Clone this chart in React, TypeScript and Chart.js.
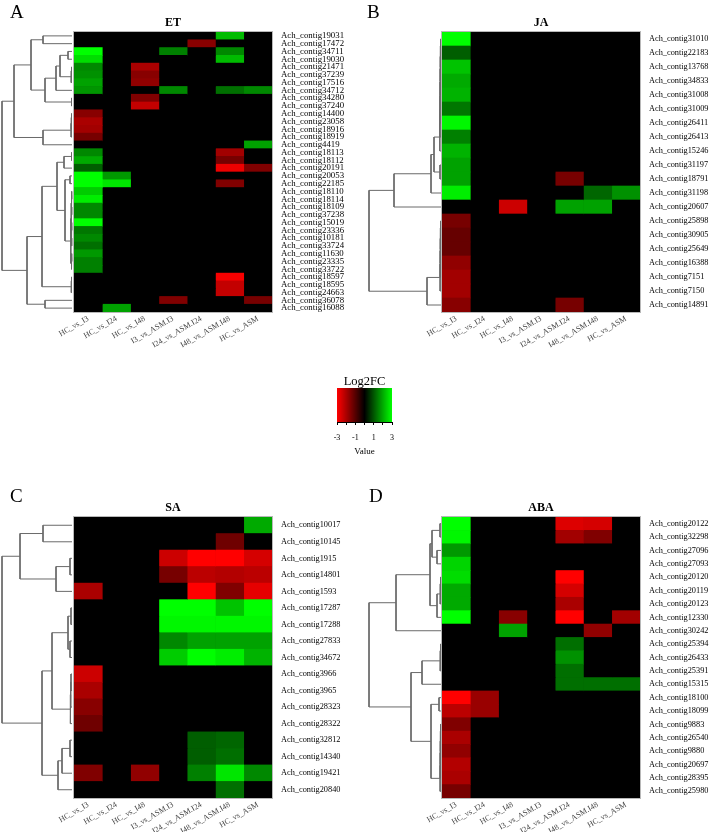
import React, { useEffect, useRef } from "react";
import { Chart, registerables } from "chart.js";

Chart.register(...registerables);

const SERIF = "'Liberation Serif', 'Times New Roman', serif";

const COLUMNS = ["HC_vs_I3", "HC_vs_I24", "HC_vs_I48", "I3_vs_ASM.I3", "I24_vs_ASM.I24", "I48_vs_ASM.I48", "HC_vs_ASM"];

// ---------- ET ----------
const ET_ROWS = [
  "Ach_contig19031", "Ach_contig17472", "Ach_contig34711", "Ach_contig19030", "Ach_contig21471", "Ach_contig37239",
  "Ach_contig17516", "Ach_contig34712", "Ach_contig34280", "Ach_contig37240", "Ach_contig14400", "Ach_contig23058",
  "Ach_contig18916", "Ach_contig18919", "Ach_contig4419", "Ach_contig18113", "Ach_contig18112", "Ach_contig20191",
  "Ach_contig20053", "Ach_contig22185", "Ach_contig18110", "Ach_contig18114", "Ach_contig18109", "Ach_contig37238",
  "Ach_contig15019", "Ach_contig23336", "Ach_contig10181", "Ach_contig33724", "Ach_contig11630", "Ach_contig23335",
  "Ach_contig33722", "Ach_contig18597", "Ach_contig18595", "Ach_contig24663", "Ach_contig36078", "Ach_contig16088",
];
const ET_VALUES = [
  [0, 0, 0, 0, 0, 2.2, 0],
  [0, 0, 0, 0, -1.6, 0, 0],
  [3, 0, 0, 1.5, 0, 1.6, 0],
  [2.6, 0, 0, 0, 0, 2.2, 0],
  [1.6, 0, -2.0, 0, 0, 0, 0],
  [1.7, 0, -1.6, 0, 0, 0, 0],
  [1.9, 0, -1.7, 0, 0, 0, 0],
  [1.75, 0, 0, 1.6, 0, 1.3, 1.6],
  [0, 0, -1.5, 0, 0, 0, 0],
  [0, 0, -2.3, 0, 0, 0, 0],
  [-1.6, 0, 0, 0, 0, 0, 0],
  [-2.0, 0, 0, 0, 0, 0, 0],
  [-1.9, 0, 0, 0, 0, 0, 0],
  [-1.4, 0, 0, 0, 0, 0, 0],
  [0, 0, 0, 0, 0, 0, 1.9],
  [1.6, 0, 0, 0, 0, -1.9, 0],
  [2.0, 0, 0, 0, 0, -1.4, 0],
  [1.1, 0, 0, 0, 0, -2.8, -1.5],
  [3, 1.8, 0, 0, 0, 0, 0],
  [3, 2.7, 0, 0, 0, -1.5, 0],
  [2.4, 0, 0, 0, 0, 0, 0],
  [2.8, 0, 0, 0, 0, 0, 0],
  [1.6, 0, 0, 0, 0, 0, 0],
  [1.6, 0, 0, 0, 0, 0, 0],
  [3, 0, 0, 0, 0, 0, 0],
  [1.4, 0, 0, 0, 0, 0, 0],
  [1.6, 0, 0, 0, 0, 0, 0],
  [1.3, 0, 0, 0, 0, 0, 0],
  [1.8, 0, 0, 0, 0, 0, 0],
  [1.5, 0, 0, 0, 0, 0, 0],
  [1.5, 0, 0, 0, 0, 0, 0],
  [0, 0, 0, 0, 0, -2.9, 0],
  [0, 0, 0, 0, 0, -2.3, 0],
  [0, 0, 0, 0, 0, -2.3, 0],
  [0, 0, 0, -1.5, 0, 0, -1.4],
  [0, 1.9, 0, 0, 0, 0, 0],
];
// merges in hclust style: negative = leaf (row), positive = earlier merge (1-based), then height
const ET_TREE = [
  [-1, -2, 29], [-3, -4, 4], [-5, -6, 0.5], [3, -7, 0.8], [2, 4, 12], [5, -8, 16], [-9, -10, 0.5], [6, 7, 27],
  [1, 8, 41], [-11, -12, 0.5], [10, -13, 0.7], [11, -14, 0.9], [12, -15, 29], [9, 13, 58], [-16, -17, 0.5],
  [15, -18, 8], [-19, -20, 2], [-21, -22, 0.3], [-23, -24, 0.3], [18, 19, 0.6], [-25, -26, 0.3], [-27, -28, 0.3],
  [21, 22, 0.6], [-29, -30, 0.3], [24, -31, 0.5], [20, 23, 0.9], [26, 25, 1.2], [17, 27, 7], [16, 28, 15],
  [-32, -33, 0.5], [30, -34, 0.7], [29, 31, 30], [-35, -36, 27], [32, 33, 45], [14, 34, 70],
];

// ---------- JA ----------
const JA_ROWS = [
  "Ach_contig31010", "Ach_contig22183", "Ach_contig13768", "Ach_contig34833", "Ach_contig31008", "Ach_contig31009",
  "Ach_contig26411", "Ach_contig26413", "Ach_contig15246", "Ach_contig31197", "Ach_contig18791", "Ach_contig31198",
  "Ach_contig20607", "Ach_contig25898", "Ach_contig30905", "Ach_contig25649", "Ach_contig16388", "Ach_contig7151",
  "Ach_contig7150", "Ach_contig14891",
];
const JA_VALUES = [
  [3, 0, 0, 0, 0, 0, 0],
  [1.1, 0, 0, 0, 0, 0, 0],
  [2.3, 0, 0, 0, 0, 0, 0],
  [2.0, 0, 0, 0, 0, 0, 0],
  [2.1, 0, 0, 0, 0, 0, 0],
  [1.4, 0, 0, 0, 0, 0, 0],
  [2.9, 0, 0, 0, 0, 0, 0],
  [1.5, 0, 0, 0, 0, 0, 0],
  [2.1, 0, 0, 0, 0, 0, 0],
  [1.9, 0, 0, 0, 0, 0, 0],
  [1.9, 0, 0, 0, -1.4, 0, 0],
  [2.8, 0, 0, 0, 0, 1.2, 1.7],
  [0, 0, -2.4, 0, 1.9, 1.9, 0],
  [-1.4, 0, 0, 0, 0, 0, 0],
  [-1.2, 0, 0, 0, 0, 0, 0],
  [-1.2, 0, 0, 0, 0, 0, 0],
  [-1.7, 0, 0, 0, 0, 0, 0],
  [-1.9, 0, 0, 0, 0, 0, 0],
  [-1.9, 0, 0, 0, 0, 0, 0],
  [-1.6, 0, 0, 0, -1.4, 0, 0],
];
const JA_TREE = [
  [-1, -2, 0.5], [1, -3, 0.6], [2, -4, 0.7], [3, -5, 0.8], [4, -6, 0.9], [5, -7, 1.0], [6, -8, 1.1], [7, -9, 1.2],
  [-10, -11, 1], [8, 9, 7], [10, -12, 10], [11, -13, 47], [-14, -15, 0.5], [13, -16, 0.6], [14, -17, 0.7],
  [15, -18, 0.8], [16, -19, 0.9], [17, -20, 14], [12, 18, 72],
];

// ---------- SA ----------
const SA_ROWS = [
  "Ach_contig10017", "Ach_contig10145", "Ach_contig1915", "Ach_contig14801", "Ach_contig1593", "Ach_contig17287",
  "Ach_contig17288", "Ach_contig27833", "Ach_contig34672", "Ach_contig3966", "Ach_contig3965", "Ach_contig28323",
  "Ach_contig28322", "Ach_contig32812", "Ach_contig14340", "Ach_contig19421", "Ach_contig20840",
];
const SA_VALUES = [
  [0, 0, 0, 0, 0, 0, 2.0],
  [0, 0, 0, 0, 0, -1.3, 0],
  [0, 0, 0, -2.4, -3, -3, -2.5],
  [0, 0, 0, -1.4, -2.2, -2.1, -2.2],
  [-2.0, 0, 0, 0, -3, -1.5, -2.7],
  [0, 0, 0, 3, 3, 2.3, 3],
  [0, 0, 0, 2.9, 2.9, 2.9, 2.9],
  [0, 0, 0, 1.6, 1.9, 1.9, 1.9],
  [0, 0, 0, 2.4, 3, 2.8, 2.1],
  [-2.4, 0, 0, 0, 0, 0, 0],
  [-2.0, 0, 0, 0, 0, 0, 0],
  [-1.6, 0, 0, 0, 0, 0, 0],
  [-1.3, 0, 0, 0, 0, 0, 0],
  [0, 0, 0, 0, 1.1, 1.2, 0],
  [0, 0, 0, 0, 1.1, 1.3, 0],
  [-1.5, 0, -1.7, 0, 1.5, 2.7, 1.6],
  [0, 0, 0, 0, 0, 1.3, 0],
];
const SA_TREE = [
  [-1, -2, 29], [-3, -4, 2], [2, -5, 16], [1, 3, 52], [-6, -7, 1], [-8, -9, 2], [5, 6, 4], [-10, -11, 1],
  [8, -12, 1.3], [9, -13, 1.6], [7, 10, 20], [-14, -15, 2], [12, -16, 10], [13, -17, 14], [11, 14, 30], [4, 15, 70],
];

// ---------- ABA ----------
const ABA_ROWS = [
  "Ach_contig20122", "Ach_contig32298", "Ach_contig27096", "Ach_contig27093", "Ach_contig20120", "Ach_contig20119",
  "Ach_contig20123", "Ach_contig12330", "Ach_contig30242", "Ach_contig25394", "Ach_contig26433", "Ach_contig25391",
  "Ach_contig15315", "Ach_contig18100", "Ach_contig18099", "Ach_contig9883", "Ach_contig26540", "Ach_contig9880",
  "Ach_contig20697", "Ach_contig28395", "Ach_contig25980",
];
const ABA_VALUES = [
  [3, 0, 0, 0, -2.6, -2.5, 0],
  [2.9, 0, 0, 0, -1.9, -1.5, 0],
  [1.8, 0, 0, 0, 0, 0, 0],
  [2.5, 0, 0, 0, 0, 0, 0],
  [2.6, 0, 0, 0, -3, 0, 0],
  [2.0, 0, 0, 0, -2.5, 0, 0],
  [2.0, 0, 0, 0, -2.0, 0, 0],
  [3, 0, -1.6, 0, -3, 0, -1.9],
  [0, 0, 1.9, 0, 0, -1.7, 0],
  [0, 0, 0, 0, 1.3, 0, 0],
  [0, 0, 0, 0, 1.7, 0, 0],
  [0, 0, 0, 0, 1.3, 0, 0],
  [0, 0, 0, 0, 1.3, 1.3, 1.3],
  [-3, -1.8, 0, 0, 0, 0, 0],
  [-2.2, -1.8, 0, 0, 0, 0, 0],
  [-1.5, 0, 0, 0, 0, 0, 0],
  [-2.0, 0, 0, 0, 0, 0, 0],
  [-1.7, 0, 0, 0, 0, 0, 0],
  [-2.1, 0, 0, 0, 0, 0, 0],
  [-2.0, 0, 0, 0, 0, 0, 0],
  [-1.4, 0, 0, 0, 0, 0, 0],
];
const ABA_TREE = [
  [-1, -2, 1], [-3, -4, 4], [1, 2, 9], [-5, -6, 0.5], [4, -7, 0.8], [5, -8, 4], [3, 6, 11], [7, -9, 45],
  [-10, -11, 0.5], [9, -12, 0.8], [10, -13, 19], [-14, -15, 2], [-16, -17, 0.5], [13, -18, 0.6], [14, -19, 0.7],
  [15, -20, 0.8], [16, -21, 0.9], [12, 17, 10], [11, 18, 30], [8, 19, 72],
];

// ---------- colour key ----------
const LEGEND_RANGE = [-3, 3];
const LEGEND_LABELED = [-3, -1, 1, 3];
const LEGEND_TITLE = "Log2FC";
const LEGEND_AXIS = "Value";

function cellColor(v: number): string {
  const t = Math.min(1, Math.abs(v) / LEGEND_RANGE[1]);
  const c = Math.round(255 * t);
  return v < 0 ? `rgb(${c},0,0)` : `rgb(0,${c},0)`;
}

function treeSegments(tree: number[][]) {
  const pos: { y: number; h: number }[] = [];
  const get = (r: number) => (r < 0 ? { y: -r - 1 + 0.5, h: 0 } : pos[r - 1]);
  const segs: { x: number; y: number }[][] = [];
  tree.forEach(([a, b, h]) => {
    const A = get(a);
    const B = get(b);
    segs.push([
      { x: A.h, y: A.y },
      { x: h, y: A.y },
      { x: h, y: B.y },
      { x: B.h, y: B.y },
    ]);
    pos.push({ y: (A.y + B.y) / 2, h });
  });
  return segs;
}

const panelDecor = {
  id: "panelDecor",
  beforeDatasetsDraw(chart: any, _a: any, opts: any) {
    if (!opts.background) return;
    const { ctx, chartArea: a } = chart;
    ctx.save();
    ctx.fillStyle = opts.background;
    ctx.fillRect(a.left, a.top, a.width, a.height);
    ctx.restore();
  },
  afterDatasetsDraw(chart: any, _a: any, opts: any) {
    const { ctx, chartArea: a } = chart;
    ctx.save();
    if (opts.frame) {
      ctx.strokeStyle = opts.frame;
      ctx.lineWidth = 1;
      ctx.strokeRect(Math.round(a.left) - 0.5, Math.round(a.top) - 0.5, Math.round(a.width) + 1, Math.round(a.height) + 1);
    }
    if (opts.title) {
      ctx.fillStyle = "#000";
      ctx.font = opts.font;
      ctx.textAlign = "center";
      ctx.textBaseline = "alphabetic";
      ctx.fillText(opts.title, (a.left + a.right) / 2, a.top - opts.gap);
    }
    ctx.restore();
  },
};

type Rect = { left: number; top: number; width: number; height: number };
type Area = { left: number; top: number; right: number; bottom: number };

function HeatPanel(p: {
  letter: string;
  letterPos: [number, number];
  title: string;
  rows: string[];
  values: number[][];
  tree: number[][];
  canvas: Rect;
  heat: Area;
  dendro: Area;
  hMax: number;
  labelSize: number;
}) {
  const heatRef = useRef<HTMLCanvasElement>(null);
  const treeRef = useRef<HTMLCanvasElement>(null);
  const cb = p.canvas;
  const hb = p.heat;
  const db = p.dendro;

  useEffect(() => {
    const heat = new Chart(heatRef.current as HTMLCanvasElement, {
      type: "bar",
      data: {
        labels: p.rows,
        datasets: COLUMNS.map((c, ci) => ({
          label: c,
          data: p.rows.map(() => [ci, ci + 1]),
          backgroundColor: p.rows.map((_, ri) => cellColor(p.values[ri][ci])),
          borderWidth: 0,
          barPercentage: 1,
          categoryPercentage: 1,
          grouped: false,
        })),
      } as any,
      options: {
        indexAxis: "y",
        responsive: false,
        animation: false,
        events: [],
        layout: { padding: { left: hb.left - cb.left, top: hb.top - cb.top, right: 0, bottom: 0 } },
        plugins: {
          legend: { display: false },
          tooltip: { enabled: false },
          panelDecor: { background: "#000", frame: "#b8b8b8", title: p.title, font: `bold 12px ${SERIF}`, gap: 6.5 },
        } as any,
        scales: {
          y: {
            type: "category",
            position: "right",
            grid: { display: false, drawTicks: false },
            border: { display: false },
            ticks: { autoSkip: false, padding: 9, color: "#000", font: { family: SERIF, size: p.labelSize } },
            afterFit: (s: any) => {
              s.width = cb.left + cb.width - hb.right;
            },
          },
          x: {
            type: "linear",
            position: "bottom",
            min: 0,
            max: COLUMNS.length,
            grid: { display: false, drawTicks: false },
            border: { display: false },
            afterBuildTicks: (s: any) => {
              s.ticks = COLUMNS.map((_, i) => ({ value: i + 0.5 }));
            },
            ticks: {
              autoSkip: false,
              minRotation: 30,
              maxRotation: 30,
              padding: 2,
              color: "#444",
              font: { family: SERIF, size: 8 },
              callback: (v: any) => COLUMNS[Math.floor(Number(v))],
            },
            afterFit: (s: any) => {
              s.height = cb.top + cb.height - hb.bottom;
            },
          },
        },
      } as any,
      plugins: [panelDecor as any],
    });

    const segs = treeSegments(p.tree);
    const tree = new Chart(treeRef.current as HTMLCanvasElement, {
      type: "scatter",
      data: {
        datasets: segs.map((s) => ({
          data: s,
          showLine: true,
          pointRadius: 0,
          borderColor: "#6a6a6a",
          borderWidth: 1,
          clip: false,
          tension: 0,
        })),
      },
      options: {
        responsive: false,
        animation: false,
        events: [],
        layout: { padding: 4 },
        plugins: { legend: { display: false }, tooltip: { enabled: false } },
        scales: {
          x: { type: "linear", display: false, min: 0, max: p.hMax, reverse: true },
          y: { type: "linear", display: false, min: 0, max: p.rows.length, reverse: true },
        },
      } as any,
    });
    return () => {
      heat.destroy();
      tree.destroy();
    };
  }, []);

  return (
    <>
      <canvas
        ref={heatRef}
        width={cb.width}
        height={cb.height}
        style={{ position: "absolute", left: cb.left, top: cb.top }}
      />
      <canvas
        ref={treeRef}
        width={db.right - db.left + 8}
        height={db.bottom - db.top + 8}
        style={{ position: "absolute", left: db.left - 4, top: db.top - 4 }}
      />
      <div
        style={{
          position: "absolute",
          left: p.letterPos[0],
          top: p.letterPos[1],
          font: `19px ${SERIF}`,
          lineHeight: "19px",
          color: "#000",
        }}
      >
        {p.letter}
      </div>
    </>
  );
}

function ColorKey() {
  const ref = useRef<HTMLCanvasElement>(null);
  const box = { left: 297, top: 362, width: 135, height: 95 };
  const bar = { left: 337, top: 388, right: 392, bottom: 422 };
  useEffect(() => {
    const chart = new Chart(ref.current as HTMLCanvasElement, {
      type: "bar",
      data: {
        labels: [LEGEND_TITLE],
        datasets: [
          {
            data: [[LEGEND_RANGE[0], LEGEND_RANGE[1]]],
            barPercentage: 1,
            categoryPercentage: 1,
            borderWidth: 0,
            backgroundColor: (c: any) => {
              const chartRef = c.chart;
              const ctx = chartRef.ctx;
              const xs = chartRef.scales && chartRef.scales.x;
              if (!xs) return "#000";
              const x0 = xs.getPixelForValue(LEGEND_RANGE[0]);
              const x1 = xs.getPixelForValue(LEGEND_RANGE[1]);
              if (!Number.isFinite(x0) || !Number.isFinite(x1) || x0 === x1) return "#000";
              const g = ctx.createLinearGradient(x0, 0, x1, 0);
              g.addColorStop(0, cellColor(LEGEND_RANGE[0]));
              g.addColorStop(0.5, cellColor(0));
              g.addColorStop(1, cellColor(LEGEND_RANGE[1]));
              return g;
            },
          },
        ],
      } as any,
      options: {
        indexAxis: "y",
        responsive: false,
        animation: false,
        events: [],
        layout: {
          padding: {
            left: bar.left - box.left,
            right: box.left + box.width - bar.right,
            top: bar.top - box.top,
            bottom: 0,
          },
        },
        plugins: {
          legend: { display: false },
          tooltip: { enabled: false },
          panelDecor: { title: LEGEND_TITLE, font: `12.5px ${SERIF}`, gap: 3 },
        } as any,
        scales: {
          y: { display: false },
          x: {
            type: "linear",
            min: LEGEND_RANGE[0],
            max: LEGEND_RANGE[1],
            grid: { drawOnChartArea: false, drawTicks: true, tickLength: 3, color: "#000" },
            border: { display: true, color: "#000" },
            ticks: {
              stepSize: 1,
              autoSkip: false,
              maxRotation: 0,
              padding: 8.5,
              color: "#000",
              font: { family: SERIF, size: 8 },
              callback: (v: any) => (LEGEND_LABELED.includes(Number(v)) ? String(v) : ""),
            },
            title: {
              display: true,
              text: LEGEND_AXIS,
              color: "#000",
              padding: 0,
              font: { family: SERIF, size: 9 },
            },
            afterFit: (s: any) => {
              s.height = box.top + box.height - bar.bottom;
            },
          },
        },
      } as any,
      plugins: [panelDecor as any],
    });
    return () => chart.destroy();
  }, []);
  return (
    <canvas
      ref={ref}
      width={box.width}
      height={box.height}
      style={{ position: "absolute", left: box.left, top: box.top }}
    />
  );
}

export default function App() {
  return (
    <div style={{ position: "absolute", left: 0, top: 0, width: 709, height: 832, background: "#fff", overflow: "hidden" }}>
      <HeatPanel
        letter="A"
        letterPos={[10, 2]}
        title="ET"
        rows={ET_ROWS}
        values={ET_VALUES}
        tree={ET_TREE}
        canvas={{ left: 0, top: 0, width: 354, height: 360 }}
        heat={{ left: 74, top: 32, right: 272, bottom: 312 }}
        dendro={{ left: 2, top: 32, right: 72, bottom: 312 }}
        hMax={70}
        labelSize={8.8}
      />
      <HeatPanel
        letter="B"
        letterPos={[367, 1.5]}
        title="JA"
        rows={JA_ROWS}
        values={JA_VALUES}
        tree={JA_TREE}
        canvas={{ left: 354, top: 0, width: 355, height: 360 }}
        heat={{ left: 442, top: 32, right: 640, bottom: 312 }}
        dendro={{ left: 369, top: 32, right: 441, bottom: 312 }}
        hMax={72}
        labelSize={8.3}
      />
      <ColorKey />
      <HeatPanel
        letter="C"
        letterPos={[10, 486]}
        title="SA"
        rows={SA_ROWS}
        values={SA_VALUES}
        tree={SA_TREE}
        canvas={{ left: 0, top: 480, width: 354, height: 352 }}
        heat={{ left: 74, top: 517, right: 272, bottom: 798 }}
        dendro={{ left: 2, top: 517, right: 72, bottom: 798 }}
        hMax={70}
        labelSize={8.3}
      />
      <HeatPanel
        letter="D"
        letterPos={[369, 486]}
        title="ABA"
        rows={ABA_ROWS}
        values={ABA_VALUES}
        tree={ABA_TREE}
        canvas={{ left: 354, top: 480, width: 355, height: 352 }}
        heat={{ left: 442, top: 517, right: 640, bottom: 798 }}
        dendro={{ left: 369, top: 517, right: 441, bottom: 798 }}
        hMax={72}
        labelSize={8.3}
      />
    </div>
  );
}
